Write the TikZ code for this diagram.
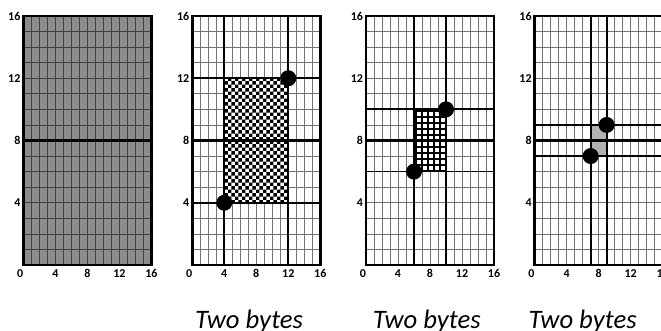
\documentclass[tikz,border=0pt]{standalone}
\usepackage{fontspec}
\setmainfont{Carlito}
\usetikzlibrary{patterns}
% fill patterns for the chosen regions
\pgfdeclarepatternformonly{finechecker}{\pgfpointorigin}{\pgfqpoint{5.2pt}{5.2pt}}{\pgfqpoint{5.2pt}{5.2pt}}{%
  \pgfpathrectangle{\pgfpointorigin}{\pgfqpoint{2.6pt}{2.6pt}}%
  \pgfpathrectangle{\pgfqpoint{2.6pt}{2.6pt}}{\pgfqpoint{2.6pt}{2.6pt}}%
  \pgfusepath{fill}}
\pgfdeclarepatternformonly{boldgrid}{\pgfpointorigin}{\pgfqpoint{4.8pt}{4.8pt}}{\pgfqpoint{4.8pt}{4.8pt}}{%
  \pgfpathrectangle{\pgfpointorigin}{\pgfqpoint{4.8pt}{1.5pt}}%
  \pgfpathrectangle{\pgfpointorigin}{\pgfqpoint{1.5pt}{4.8pt}}%
  \pgfusepath{fill}}

\begin{document}
\begin{tikzpicture}[x=6pt, y=11.672pt,
    frame/.style={line width=2.2pt},
    gridline/.style={black!55, line width=0.5pt},
    divider/.style={line width=1.3pt},
    midline/.style={line width=1.9pt},
    dot/.style={circle, fill=black, inner sep=0pt, minimum size=12pt},
    tick/.style={font=\bfseries\fontsize{9}{9}\selectfont, inner sep=0pt},
    caption/.style={font=\itshape\fontsize{20}{20}\selectfont, inner sep=0pt, anchor=base},
    region2/.style={pattern=finechecker},
    region3/.style={pattern=boldgrid},
    region4/.style={fill=black!30}]
    \useasboundingbox (0,0) rectangle (82.625,21.269);
    \clip (0,0) rectangle (82.625,21.269);

    % Full range
    \begin{scope}[shift={(2.933,4.241)}]
      \fill[black!45] (0,0) rectangle (16,16);
      \foreach \i in {1,...,15} {
        \draw[gridline, black!75] (\i,0) -- (\i,16);
        \draw[gridline, black!75] (0,\i) -- (16,\i);
      }
      \draw[midline] (0,8) -- (16,8);
      \draw[frame] (0,0) rectangle (16,16);
      \foreach \t in {4,8,12,16} {
        \node[tick, anchor=east] (p1y\t) at (-0.35,\t) {\t};
        \node[tick] (p1x\t) at (\t,-0.55) {\t};
      }
      \node[tick] (p1x0) at (-0.4,-0.55) {0};
    \end{scope}

    % Narrowed ranges
    \foreach \n/\ox/\lo/\hi/\cx in {2/24.033/4/12/7.1, 3/45.75/6/10/7.6, 4/66.833/7/9/6.0} {
      \begin{scope}[shift={(\ox,4.241)}]
        \foreach \i in {1,...,15} {
          \draw[gridline] (\i,0) -- (\i,16);
          \draw[gridline] (0,\i) -- (16,\i);
        }
        \fill[white] (\lo,\lo) rectangle (\hi,\hi);
        \fill[region\n] (\lo,\lo) rectangle (\hi,\hi);
        \draw[divider] (\lo,0) -- (\lo,16) (\hi,0) -- (\hi,16)
                       (0,\lo) -- (16,\lo) (0,\hi) -- (16,\hi);
        \draw[midline] (0,8) -- (16,8);
        \draw[frame] (0,0) rectangle (16,16);
        \node[dot] (lo\n) at (\lo,\lo) {};
        \node[dot] (hi\n) at (\hi,\hi) {};
        \foreach \t in {4,8,12,16} {
          \node[tick, anchor=east] (p\n y\t) at (-0.35,\t) {\t};
          \node[tick] (p\n x\t) at (\t,-0.55) {\t};
        }
        \node[tick] (p\n x0) at (-0.4,-0.55) {0};
        \node[caption] (cap\n) at (\cx,-4.05) {Two bytes};
      \end{scope}
    }
\end{tikzpicture}
\end{document}
